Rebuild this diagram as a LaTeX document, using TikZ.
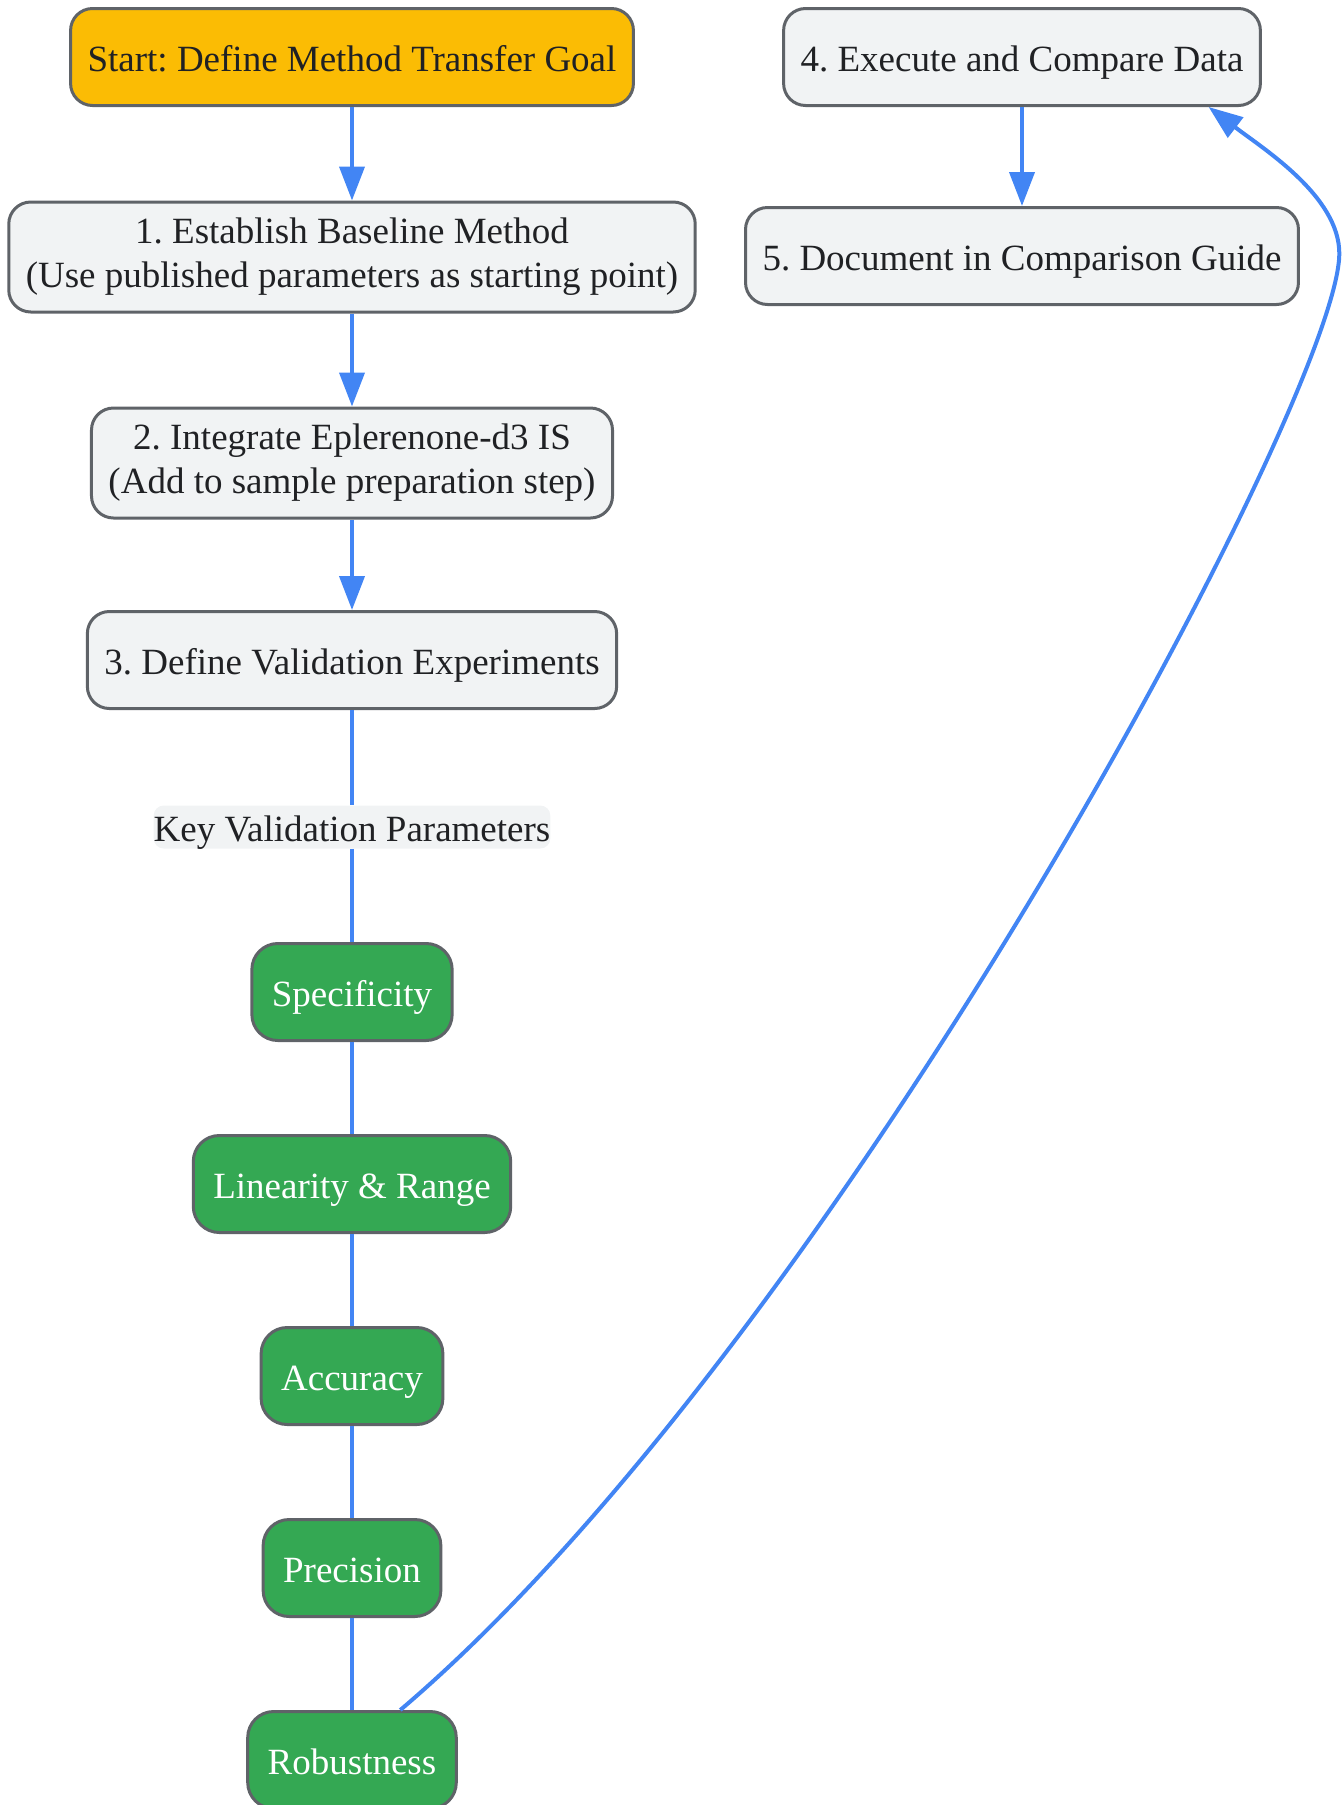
\documentclass[tikz,border=0pt]{standalone}
\usepackage{fontspec}
\setmainfont{Liberation Serif}
\usetikzlibrary{arrows.meta, positioning}
\frenchspacing

\definecolor{boxgray}{HTML}{F1F3F4}
\definecolor{edgegray}{HTML}{5F6368}
\definecolor{startyellow}{HTML}{FBBC04}
\definecolor{paramgreen}{HTML}{34A853}
\definecolor{linkblue}{HTML}{4285F4}
\definecolor{textdark}{HTML}{202124}

\tikzset{
  stepbox/.style={draw=edgegray, line width=1.5pt, fill=boxgray, rounded corners=11pt,
    text=textdark, align=center, minimum height=48.5pt, inner xsep=8.5pt, inner ysep=3pt,
    text height=18pt, text depth=3.5pt},
  twoline/.style={minimum height=55pt, text height=, text depth=},
  startbox/.style={stepbox, fill=startyellow},
  parambox/.style={stepbox, fill=paramgreen, text=white, rounded corners=13pt, inner xsep=10pt},
  flow/.style={draw=linkblue, line width=2pt, -{Triangle[length=17pt, width=12.5pt]}},
  link/.style={draw=linkblue, line width=2pt},
  edgelabel/.style={fill=boxgray, rounded corners=5pt, inner xsep=0pt, inner ysep=0pt,
    minimum height=21.5pt, text=textdark, text height=18pt, text depth=3.5pt}
}

\begin{document}
\begin{tikzpicture}[x=0.5pt, y=-0.5pt, font=\fontsize{18.5}{22}\selectfont]

        \useasboundingbox (0,0) rectangle (1342,1805);

        % left column
        \node[startbox] (start) at (352, 57) {Start: Define Method Transfer Goal};
        \node[stepbox, twoline] (baseline) at (352, 257) {1. Establish Baseline Method\\(Use published parameters as starting point)};
        \node[stepbox, twoline] (integrate) at (352, 463) {2. Integrate Eplerenone-d3 IS\\(Add to sample preparation step)};
        \node[stepbox] (experiments) at (352, 660) {3. Define Validation Experiments};

        \node[edgelabel] (keylabel) at (352, 827) {Key Validation Parameters};

        % validation parameters
        \node[parambox] (specificity) at (352, 992) {Specificity};
        \node[parambox] (linearity) at (352, 1184) {Linearity \& Range};
        \node[parambox] (accuracy) at (352, 1376) {Accuracy};
        \node[parambox] (precision) at (352, 1568) {Precision};
        \node[parambox] (robustness) at (352, 1760) {Robustness};

        % right column
        \node[stepbox] (execute) at (1022, 57) {4. Execute and Compare Data};
        \node[stepbox] (document) at (1022, 256) {5. Document in Comparison Guide};

        \draw[flow] (start) -- (baseline);
        \draw[flow] (baseline) -- (integrate);
        \draw[flow] (integrate) -- (experiments);

        \draw[link] (experiments) -- (keylabel);
        \draw[link] (keylabel) -- (specificity);
        \draw[link] (specificity) -- (linearity);
        \draw[link] (linearity) -- (accuracy);
        \draw[link] (accuracy) -- (precision);
        \draw[link] (precision) -- (robustness);

        % loop back up to step 4
        \coordinate (turn) at (1339, 260);
        \draw[flow] (robustness.46) .. controls (830, 1345) and (1325, 420) .. (turn)
              .. controls (1345, 200) and (1265, 150) .. (execute.-15);

        \draw[flow] (execute) -- (document);

    \end{tikzpicture}
\end{document}
